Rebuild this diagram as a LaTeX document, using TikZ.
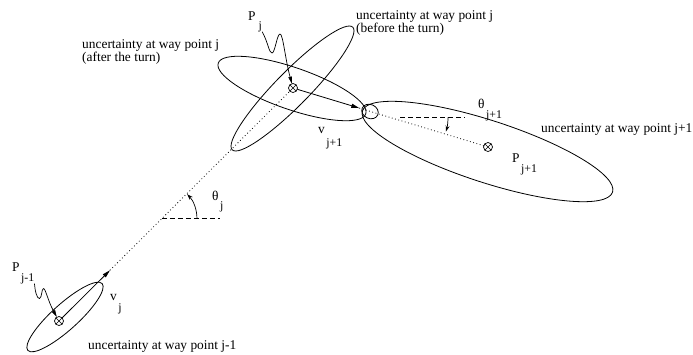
\documentclass[tikz,border=0pt]{standalone}
\usepackage{fontspec}
\setmainfont{Liberation Serif}
\usetikzlibrary{arrows.meta,calc}
\newcommand{\subfont}{\fontsize{11.8}{12}\selectfont}
\newcommand{\lowsub}[2][10pt]{\hspace{1.5pt}\raisebox{-#1}{\subfont #2}}

\begin{document}
\begin{tikzpicture}[x=1pt,y=-1pt,
    ell/.style={draw,line width=.8pt},
    wpt/.style={circle,draw,line width=.7pt,inner sep=0pt,outer sep=0pt,minimum size=9pt},
    vec/.style={line width=.8pt,-{Triangle[length=8pt,width=4pt]}},
    track/.style={line width=.8pt,dash pattern=on .8pt off 2.6pt},
    refline/.style={line width=.7pt,dash pattern=on 5pt off 3pt},
    angarr/.style={line width=.7pt,-{Stealth[length=6pt,width=4pt]}},
    wave/.style={line width=.7pt,-{Triangle[length=7pt,width=3.5pt]}},
    lbl/.style={inner sep=0pt,font=\fontsize{13.4}{13.8}\selectfont}]
  \useasboundingbox (0,0) rectangle (693,354);
  % uncertainty ellipses
  \draw[ell,rotate around={42:(65,317)}] (65,317) ellipse [x radius=50,y radius=13];
  \draw[ell,rotate around={45.5:(292.5,88.5)}] (292.5,88.5) ellipse [x radius=86,y radius=17];
  \draw[ell,rotate around={-19:(292,88.5)}] (292,88.5) ellipse [x radius=78,y radius=21];
  \draw[ell,rotate around={-25:(370,111.5)}] (370,111.5) ellipse [x radius=8.5,y radius=7];
  \draw[ell,rotate around={-18:(487.5,151.5)}] (487.5,151.5) ellipse [x radius=131.5,y radius=31];
  % way points
  \node[wpt] (pjm) at (59,321) {};
  \node[wpt] (pj) at (293,88) {};
  \node[wpt] (pjp) at (488,147) {};
  \foreach \p in {pjm,pj,pjp}
    \draw[line width=.6pt] (\p.north east) -- (\p.south west) (\p.north west) -- (\p.south east);
  \coordinate (vjtip) at ($(pjm)!0.218!(pj)$);
  \coordinate (vjptip) at ($(pj)!0.34!(pjp)$);
  \coordinate (angj) at ($(pjm)!0.44!(pj)$);
  \coordinate (angjp) at (400,117.5);
  % velocity vectors and tracks
  \draw[vec] (pjm) -- (vjtip);
  \draw[track] (vjtip) -- (pj);
  \draw[vec] (pj) -- (vjptip);
  \draw[track] (vjptip) -- (pjp);
  % heading angles
  \draw[refline] (angj) -- ++(58,0);
  \draw[angarr] ($(angj)+(35,0)$) arc[start angle=0,end angle=44,radius=35pt];
  \draw[refline] (angjp) -- ++(65,0);
  \draw[angarr] ($(angjp)+(48,0)$) arc[start angle=0,end angle=-17,radius=48pt];
  % labels
  \node[lbl,anchor=base west] (lpjm) at (12,271) {P\lowsub{j-1}};
  \node[lbl,anchor=base west] (lvj) at (110,300) {v\lowsub[11pt]{j}};
  \node[lbl,anchor=base west] (lpj) at (248,20) {P\lowsub[9pt]{\hspace{1.5pt}j}};
  \node[lbl,anchor=base west] (lvjp) at (318,133) {v\lowsub[13pt]{j+1}};
  \node[lbl,anchor=base west] (ltj) at (212,200) {θ\lowsub[9pt]{j}};
  \node[lbl,anchor=base west] (ltjp) at (478,108) {θ\lowsub{j+1}};
  \node[lbl,anchor=base west] (lpjp) at (512,162) {P\lowsub{j+1}};
  \draw[wave] (lpjm.south east) .. controls (35,291) and (37,299) .. (39.5,298.5)
    .. controls (42,298) and (41.5,288.5) .. (43.5,288.5)
    .. controls (45.5,288.5) and (48,301) .. (pjm);
  \draw[wave] (lpj.south east) .. controls (268,42) and (269,53) .. (272,53)
    .. controls (275,53) and (277,34) .. (280,34)
    .. controls (283,34) and (285,58) .. (pj);
  \node[lbl,anchor=base west] (ujm) at (88,349) {uncertainty at way point j-1};
  \node[lbl,anchor=north west,align=left] (uja) at (82,39) {uncertainty at way point j\\(after the turn)};
  \node[lbl,anchor=north west,align=left] (ujb) at (356,10) {uncertainty at way point j\\(before the turn)};
  \node[lbl,anchor=base west] (ujp) at (541,132) {uncertainty at way point j+1};
\end{tikzpicture}
\end{document}
